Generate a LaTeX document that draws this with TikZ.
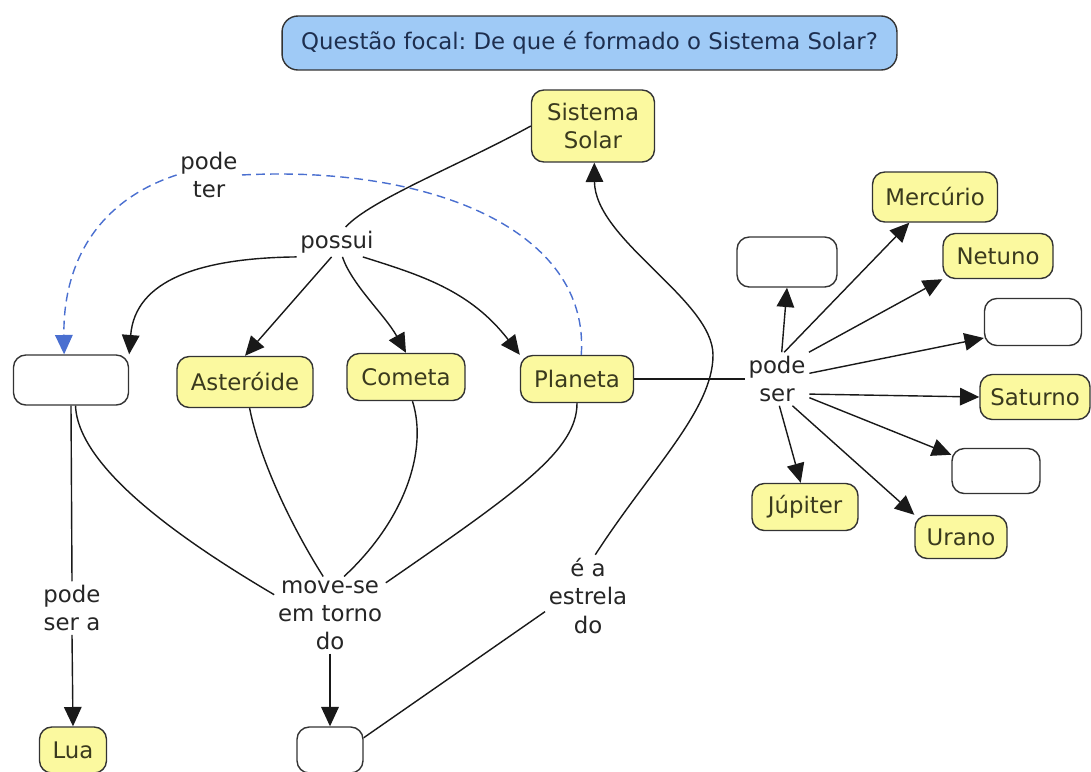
\documentclass[tikz,border=0pt]{standalone}
\usepackage{fontspec}
\setmainfont{DejaVu Sans}
\usepackage{xcolor}
\usepackage{tikz}
\usetikzlibrary{arrows.meta}
\definecolor{conceptbg}{HTML}{FBF99F}
\definecolor{focalbg}{HTML}{9FCAF6}
\definecolor{conceptfg}{HTML}{3A3A1E}
\definecolor{focalfg}{HTML}{1E2F4F}
\definecolor{edgecol}{HTML}{333333}
\definecolor{dashblue}{HTML}{4A6FD0}
\frenchspacing

\begin{document}
\begin{tikzpicture}[x=0.02cm, y=-0.02cm, >={Triangle[length=11pt,width=10pt]},
  concept/.style={draw=edgecol, line width=0.8pt, fill=conceptbg, rounded corners=7pt, align=center, text=conceptfg, font=\fontsize{13}{16}\selectfont, inner sep=2pt},
  blank/.style={draw=edgecol, line width=0.8pt, fill=white, rounded corners=7pt, inner sep=0pt},
  focal/.style={draw=edgecol, line width=0.8pt, fill=focalbg, rounded corners=9pt, text=focalfg, font=\fontsize{13}{16}\selectfont},
  link/.style={fill=white, align=center, text=black!85, font=\fontsize{13}{16}\selectfont, inner sep=2pt},
  conn/.style={line width=0.8pt, draw=black!90},
  dashconn/.style={line width=0.8pt, draw=dashblue, dash pattern=on 5pt off 3pt, -{Triangle[length=11pt,width=10pt,fill=dashblue]}}]
  \useasboundingbox (0,0) rectangle (1091,771);

  % focus question
  \node[focal, minimum width=12.3cm, minimum height=1.08cm] (focal) at (589.5,43) {Questão focal: De que é formado o Sistema Solar?};

  % concepts
  \node[concept, minimum width=2.46cm, minimum height=1.44cm] (sol) at (593,126) {Sistema\\Solar};
  \node[blank, minimum width=2.3cm, minimum height=1cm] (lbox) at (71,380) {};
  \node[concept, minimum width=2.72cm, minimum height=1.02cm] (ast) at (245,382) {Asteróide};
  \node[concept, minimum width=2.36cm, minimum height=0.94cm] (com) at (406,377) {Cometa};
  \node[concept, minimum width=2.26cm, minimum height=0.94cm] (plan) at (577,379) {Planeta};
  \node[concept, minimum width=1.34cm, minimum height=0.92cm] (lua) at (73,750) {Lua};
  \node[blank, minimum width=1.32cm, minimum height=0.92cm] (bbox) at (330,750) {};

  % planets
  \node[blank, minimum width=2cm, minimum height=1cm] (top) at (787,262) {};
  \node[concept, minimum width=2.5cm, minimum height=1cm] (merc) at (935,197) {Mercúrio};
  \node[concept, minimum width=2.2cm, minimum height=0.9cm] (net) at (998,256) {Netuno};
  \node[blank, minimum width=1.94cm, minimum height=0.94cm] (e1) at (1033,322) {};
  \node[concept, minimum width=2.2cm, minimum height=0.9cm] (sat) at (1035,397) {Saturno};
  \node[blank, minimum width=1.76cm, minimum height=0.9cm] (e2) at (996,471) {};
  \node[concept, minimum width=2.12cm, minimum height=0.94cm] (jup) at (805,507) {Júpiter};
  \node[concept, minimum width=1.84cm, minimum height=0.86cm] (ura) at (961,537) {Urano};

  % linking phrases
  \node[link] (possui) at (337,242) {possui};
  \node[link] (podeter) at (209,175) {pode\\ter};
  \node[link] (podeser) at (777,379) {pode\\ser};
  \node[link] (podesera) at (72,608) {pode\\ser a};
  \node[link] (movese) at (330,615) {move-se\\em torno\\do};
  \node[link] (estrela) at (588,596) {é a\\estrela\\do};

  % possui
  \draw[conn] (sol.west) .. controls (460,165) and (370,200) .. (possui.60);
  \draw[conn, ->] (possui.south west) .. controls (200,258) and (135,280) .. (lbox.north east);
  \draw[conn, ->] (possui.250) -- (ast.north);
  \draw[conn, ->] (possui.-70) .. controls (352,285) and (385,315) .. (com.north);
  \draw[conn, ->] (possui.-30) .. controls (420,275) and (470,290) .. (plan.north west);

  % pode ter
  \draw[dashconn, -] (plan.80) .. controls (590,230) and (430,165) .. (podeter.east);
  \draw[dashconn] (podeter.west) .. controls (100,200) and (63,260) .. (lbox.105);

  % pode ser
  \draw[conn] (plan.east) -- (podeser.west);
  \draw[conn, ->] (podeser.80) -- (top.south);
  \draw[conn, ->] (podeser.75) -- (merc.225);
  \draw[conn, ->] (podeser.40) -- (net.south west);
  \draw[conn, ->] (podeser.10) -- (e1.198);
  \draw[conn, ->] (podeser.-25) -- (sat.west);
  \draw[conn, ->] (podeser.-30) -- (e2.160);
  \draw[conn, ->] (podeser.-60) -- (ura.north west);
  \draw[conn, ->] (podeser.-85) -- (jup.100);

  % pode ser a
  \draw[conn] (lbox.south) -- (podesera.north);
  \draw[conn, ->] (podesera.south) -- (lua.north);

  % move-se em torno do
  \draw[conn] (lbox.-80) .. controls (78,470) and (190,545) .. (movese.160);
  \draw[conn] (ast.-80) .. controls (262,470) and (300,540) .. (movese.100);
  \draw[conn] (com.-75) .. controls (428,450) and (405,520) .. (movese.70);
  \draw[conn] (plan.-90) .. controls (577,450) and (520,490) .. (movese.30);
  \draw[conn, ->] (movese.south) -- (bbox.north);

  % e a estrela do
  \draw[conn] (bbox.20) -- (estrela.200);
  \draw[conn, ->] (estrela.80) .. controls (650,470) and (713,410) .. (713,355)
    .. controls (713,300) and (595,240) .. (sol.-88);
\end{tikzpicture}
\end{document}
